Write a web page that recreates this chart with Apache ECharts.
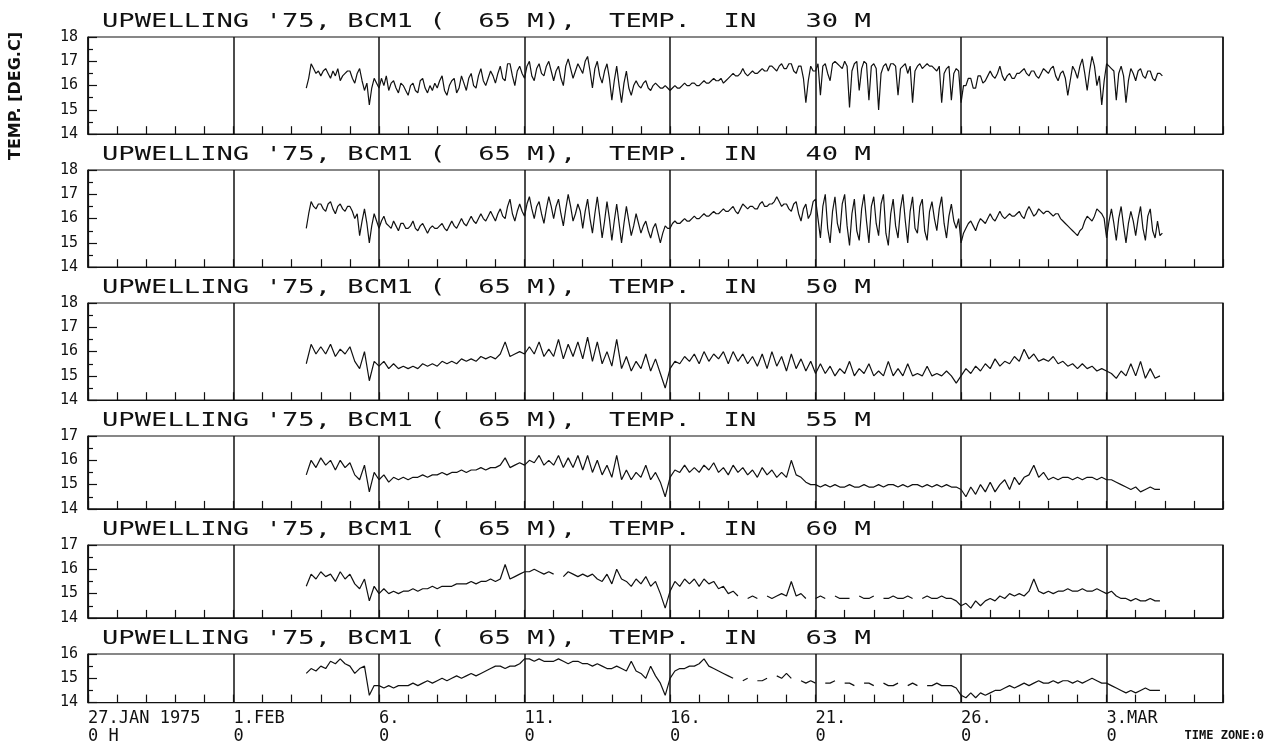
<!DOCTYPE html>
<html>
<head>
<meta charset="utf-8">
<script src="https://cdn.jsdelivr.net/npm/echarts@6/dist/echarts.min.js"></script>
<style>
html,body{margin:0;padding:0;background:#fff}
#chart{width:1276px;height:749px}
</style>
</head>
<body>
<div id="chart"></div>
<script>
// time axis: days after 27.JAN 1975 0 H, every record starts at 3.FEB 12 H
var START = 7.5

var depths = ['30', '40', '50', '55', '60', '63']
var steps = [1 / 12, 1 / 12, 1 / 6, 1 / 6, 1 / 6, 1 / 6]   // 2 h or 4 h samples
var yMin = [14, 14, 14, 14, 14, 14]
var yMax = [18, 18, 18, 17, 17, 16]
var xTickDays = [0, 5, 10, 15, 20, 25, 30, 35]
var xTickLabels = ['27.JAN 1975\n0 H', '1.FEB\n0', '6.\n0', '11.\n0', '16.\n0', '21.\n0', '26.\n0', '3.MAR\n0']

// 30 M, 2 h
var t30 = [
	15.9, 16.3, 16.9, 16.7, 16.5, 16.6,
	16.4, 16.6, 16.7, 16.5, 16.3, 16.6, 16.4, 16.7, 16.2, 16.4, 16.5, 16.6,
	16.6, 16.3, 16.1, 16.5, 16.7, 16.2, 15.8, 16.1, 15.2, 15.9, 16.3, 16.1,
	15.9, 16.3, 16.0, 16.4, 15.8, 16.1, 16.2, 15.9, 15.7, 16.1, 16.0, 15.8,
	15.6, 16.0, 16.1, 15.8, 15.7, 16.2, 16.3, 15.9, 15.7, 16.0, 15.8, 16.1,
	15.9, 16.2, 16.4, 15.8, 15.6, 16.0, 16.2, 16.3, 15.7, 15.9, 16.4, 16.1,
	15.8, 16.3, 16.5, 16.0, 15.9, 16.4, 16.7, 16.2, 16.0, 16.3, 16.6, 16.4,
	16.1, 16.5, 16.8, 16.3, 16.2, 16.9, 16.9, 16.4, 16.0, 16.6, 16.8, 16.5,
	16.3, 16.8, 17.0, 16.4, 16.2, 16.7, 16.9, 16.5, 16.4, 16.8, 17.0, 16.6,
	16.2, 16.6, 16.8, 16.3, 16.0, 16.8, 17.1, 16.7, 16.3, 16.6, 16.9, 16.7,
	16.5, 17.0, 17.2, 16.6, 15.9, 16.7, 17.0, 16.4, 16.1, 16.6, 16.9, 16.3,
	15.4, 16.2, 16.8, 16.0, 15.3, 16.1, 16.6, 15.9, 15.6, 16.0, 16.2, 16.0,
	15.9, 16.1, 16.2, 15.9, 15.8, 16.0, 16.1, 16.0, 15.9, 15.9, 16.0, 15.9,
	15.8, 15.9, 16.0, 15.9, 15.9, 16.0, 16.1, 16.0, 16.0, 16.1, 16.1, 16.0,
	16.0, 16.1, 16.2, 16.1, 16.1, 16.2, 16.3, 16.2, 16.2, 16.3, 16.1, 16.2,
	16.3, 16.4, 16.5, 16.4, 16.4, 16.5, 16.7, 16.5, 16.4, 16.5, 16.6, 16.5,
	16.5, 16.6, 16.7, 16.6, 16.6, 16.8, 16.8, 16.7, 16.6, 16.8, 16.9, 16.7,
	16.7, 16.9, 16.9, 16.6, 16.5, 16.8, 16.8, 16.3, 15.3, 16.2, 16.8, 16.6,
	16.6, 16.9, 15.6, 16.8, 16.9, 16.5, 16.2, 16.9, 17.0, 16.9, 16.8, 16.7,
	17.0, 16.8, 15.1, 16.6, 16.9, 17.0, 15.8, 16.7, 17.0, 16.9, 15.4, 16.8,
	16.9, 16.7, 15.0, 16.5, 16.8, 16.9, 16.6, 16.9, 16.9, 16.8, 15.6, 16.7,
	16.8, 16.9, 16.5, 16.8, 15.3, 16.6, 16.8, 16.9, 16.7, 16.8, 16.9, 16.8,
	16.8, 16.7, 16.6, 16.8, 15.3, 16.5, 16.7, 16.8, 15.4, 16.5, 16.7, 16.6,
	15.3, 16.0, 16.0, 16.3, 16.3, 15.9, 15.9, 16.4, 16.4, 16.1, 16.2, 16.4,
	16.6, 16.4, 16.3, 16.5, 16.8, 16.4, 16.2, 16.4, 16.5, 16.3, 16.3, 16.5,
	16.5, 16.6, 16.7, 16.5, 16.4, 16.6, 16.6, 16.4, 16.3, 16.5, 16.7, 16.6,
	16.5, 16.7, 16.8, 16.4, 16.2, 16.5, 16.6, 16.3, 15.6, 16.2, 16.8, 16.6,
	16.3, 16.8, 17.1, 16.5, 15.8, 16.6, 17.2, 16.8, 16.0, 16.4, 15.2, 16.2,
	16.9, 16.8, 16.7, 16.6, 15.4, 16.5, 16.8, 16.4, 15.3, 16.2, 16.7, 16.5,
	16.2, 16.6, 16.7, 16.4, 16.3, 16.6, 16.6, 16.3, 16.2, 16.5, 16.5, 16.4
]

// 40 M, 2 h
var t40 = [
	15.6, 16.2, 16.7, 16.5, 16.4, 16.6,
	16.6, 16.4, 16.3, 16.6, 16.7, 16.4, 16.2, 16.5, 16.6, 16.4, 16.3, 16.5,
	16.5, 16.3, 16.0, 16.2, 15.3, 15.9, 16.4, 15.8, 15.0, 15.7, 16.2, 15.9,
	15.6, 15.9, 16.1, 15.8, 15.7, 15.6, 15.9, 15.7, 15.5, 15.8, 15.8, 15.6,
	15.6, 15.7, 15.9, 15.6, 15.5, 15.7, 15.8, 15.6, 15.4, 15.6, 15.7, 15.6,
	15.6, 15.7, 15.8, 15.6, 15.5, 15.7, 15.9, 15.7, 15.6, 15.8, 16.0, 15.8,
	15.7, 15.9, 16.1, 15.9, 15.8, 16.0, 16.2, 16.0, 15.9, 16.1, 16.3, 16.1,
	15.9, 16.2, 16.4, 16.1, 16.0, 16.5, 16.8, 16.2, 15.9, 16.3, 16.6, 16.3,
	16.1, 16.6, 16.9, 16.4, 16.0, 16.5, 16.7, 16.2, 15.8, 16.4, 16.9, 16.5,
	16.0, 16.5, 16.8, 16.2, 15.7, 16.4, 17.0, 16.5, 15.9, 16.2, 16.6, 16.3,
	15.6, 16.3, 16.8, 16.0, 15.4, 16.2, 16.9, 16.1, 15.2, 15.9, 16.7, 16.0,
	15.1, 15.9, 16.6, 15.8, 15.0, 15.8, 16.5, 15.9, 15.3, 15.7, 16.2, 15.8,
	15.4, 15.7, 15.9, 15.5, 15.2, 15.6, 15.8, 15.4, 15.0, 15.4, 15.7, 15.6,
	15.6, 15.8, 15.9, 15.8, 15.8, 15.9, 16.0, 15.9, 15.9, 16.0, 16.1, 16.0,
	16.0, 16.1, 16.2, 16.1, 16.1, 16.2, 16.3, 16.2, 16.2, 16.3, 16.4, 16.3,
	16.3, 16.4, 16.5, 16.3, 16.2, 16.4, 16.6, 16.5, 16.4, 16.5, 16.5, 16.4,
	16.4, 16.6, 16.7, 16.5, 16.5, 16.6, 16.6, 16.7, 16.9, 16.7, 16.5, 16.6,
	16.6, 16.4, 16.3, 16.6, 16.7, 16.2, 15.9, 16.4, 16.6, 16.0, 16.2, 16.7,
	16.8, 16.0, 15.2, 16.5, 17.0, 15.6, 15.0, 16.3, 16.9, 15.8, 15.4, 16.6,
	17.0, 15.7, 14.9, 16.2, 16.8, 15.5, 15.1, 16.4, 17.0, 15.9, 15.0, 16.5,
	16.9, 15.8, 15.3, 16.6, 17.0, 15.4, 14.9, 16.2, 16.8, 15.7, 15.2, 16.4,
	17.0, 15.9, 15.0, 16.3, 16.9, 15.6, 15.4, 16.5, 16.8, 15.5, 15.1, 16.3,
	16.7, 16.0, 15.5, 16.4, 16.9, 15.8, 15.2, 16.1, 16.6, 15.9, 15.6, 16.0,
	15.0, 15.4, 15.6, 15.8, 15.9, 15.7, 15.5, 15.8, 16.0, 15.9, 15.8, 16.0,
	16.2, 16.0, 15.9, 16.1, 16.3, 16.1, 16.0, 16.1, 16.2, 16.1, 16.1, 16.2,
	16.3, 16.1, 16.0, 16.3, 16.5, 16.3, 16.1, 16.2, 16.4, 16.3, 16.2, 16.3,
	16.3, 16.2, 16.1, 16.2, 16.2, 16.0, 15.9, 15.8, 15.7, 15.6, 15.5, 15.4,
	15.3, 15.5, 15.6, 15.9, 16.1, 16.0, 15.9, 16.1, 16.4, 16.3, 16.2, 16.0,
	15.2, 15.9, 16.4, 15.8, 15.1, 16.0, 16.5, 15.7, 15.0, 15.8, 16.3, 15.9,
	15.3, 16.0, 16.5, 15.6, 15.1, 16.1, 16.4, 15.5, 15.2, 15.9, 15.3, 15.4
]

// 50 M, 4 h
var t50 = [
	15.5, 16.3, 15.9,
	16.2, 15.9, 16.3, 15.8, 16.1, 15.9,
	16.2, 15.6, 15.3, 16.0, 14.8, 15.6,
	15.4, 15.6, 15.3, 15.5, 15.3, 15.4,
	15.3, 15.4, 15.3, 15.5, 15.4, 15.5,
	15.4, 15.6, 15.5, 15.6, 15.5, 15.7,
	15.6, 15.7, 15.6, 15.8, 15.7, 15.8,
	15.7, 15.9, 16.4, 15.8, 15.9, 16.0,
	15.9, 16.2, 15.9, 16.4, 15.8, 16.1,
	15.8, 16.5, 15.7, 16.3, 15.8, 16.4,
	15.7, 16.6, 15.6, 16.4, 15.5, 16.0,
	15.4, 16.5, 15.3, 15.8, 15.2, 15.6,
	15.3, 15.9, 15.2, 15.7, 15.1, 14.5,
	15.3, 15.6, 15.5, 15.8, 15.6, 15.9,
	15.5, 16.0, 15.6, 15.9, 15.7, 16.0,
	15.5, 16.0, 15.6, 15.9, 15.5, 15.8,
	15.4, 15.9, 15.3, 16.0, 15.4, 15.8,
	15.2, 15.9, 15.3, 15.7, 15.2, 15.6,
	15.1, 15.5, 15.1, 15.4, 15.0, 15.3,
	15.1, 15.6, 15.0, 15.3, 15.1, 15.5,
	15.0, 15.2, 15.0, 15.6, 15.0, 15.3,
	15.0, 15.5, 15.0, 15.1, 15.0, 15.4,
	15.0, 15.1, 15.0, 15.2, 15.0, 14.7,
	15.0, 15.3, 15.1, 15.4, 15.2, 15.5,
	15.3, 15.7, 15.4, 15.6, 15.5, 15.8,
	15.6, 16.1, 15.7, 15.9, 15.6, 15.7,
	15.6, 15.8, 15.5, 15.6, 15.4, 15.5,
	15.3, 15.5, 15.3, 15.4, 15.2, 15.3,
	15.2, 15.1, 14.9, 15.2, 15.0, 15.5,
	15.0, 15.6, 14.9, 15.3, 14.9, 15.0
]

// 55 M, 4 h
var t55 = [
	15.4, 16.0, 15.7,
	16.1, 15.8, 16.0, 15.6, 16.0, 15.7,
	15.9, 15.4, 15.2, 15.8, 14.7, 15.5,
	15.2, 15.4, 15.1, 15.3, 15.2, 15.3,
	15.2, 15.3, 15.3, 15.4, 15.3, 15.4,
	15.4, 15.5, 15.4, 15.5, 15.5, 15.6,
	15.5, 15.6, 15.6, 15.7, 15.6, 15.7,
	15.7, 15.8, 16.1, 15.7, 15.8, 15.9,
	15.8, 16.0, 15.9, 16.2, 15.8, 16.0,
	15.8, 16.2, 15.7, 16.1, 15.7, 16.2,
	15.6, 16.2, 15.5, 16.0, 15.4, 15.8,
	15.3, 16.2, 15.2, 15.6, 15.2, 15.5,
	15.3, 15.8, 15.2, 15.5, 15.1, 14.5,
	15.3, 15.6, 15.5, 15.8, 15.5, 15.7,
	15.5, 15.8, 15.6, 15.9, 15.5, 15.7,
	15.4, 15.8, 15.5, 15.7, 15.4, 15.6,
	15.3, 15.7, 15.4, 15.6, 15.3, 15.5,
	15.3, 16.0, 15.4, 15.3, 15.1, 15.0,
	15.0, 14.9, 15.0, 14.9, 15.0, 14.9,
	14.9, 15.0, 14.9, 14.9, 15.0, 14.9,
	14.9, 15.0, 14.9, 15.0, 15.0, 14.9,
	15.0, 14.9, 15.0, 15.0, 14.9, 15.0,
	14.9, 15.0, 14.9, 15.0, 14.9, 14.9,
	14.8, 14.5, 14.9, 14.6, 15.0, 14.7,
	15.1, 14.7, 15.0, 15.2, 14.8, 15.3,
	15.0, 15.3, 15.4, 15.8, 15.3, 15.5,
	15.2, 15.3, 15.2, 15.3, 15.3, 15.2,
	15.3, 15.2, 15.3, 15.3, 15.2, 15.3,
	15.2, 15.2, 15.1, 15.0, 14.9, 14.8,
	14.9, 14.7, 14.8, 14.9, 14.8, 14.8
]

// 60 M, 4 h (null = no record)
var t60 = [
	15.3, 15.8, 15.6,
	15.9, 15.7, 15.8, 15.5, 15.9, 15.6,
	15.8, 15.4, 15.2, 15.6, 14.7, 15.3,
	15.0, 15.2, 15.0, 15.1, 15.0, 15.1,
	15.1, 15.2, 15.1, 15.2, 15.2, 15.3,
	15.2, 15.3, 15.3, 15.3, 15.4, 15.4,
	15.4, 15.5, 15.4, 15.5, 15.5, 15.6,
	15.5, 15.6, 16.2, 15.6, 15.7, 15.8,
	15.9, 15.9, 16.0, 15.9, 15.8, 15.9,
	15.8, null, 15.7, 15.9, 15.8, 15.7,
	15.8, 15.7, 15.8, 15.6, 15.5, 15.8,
	15.4, 16.0, 15.6, 15.5, 15.3, 15.6,
	15.4, 15.7, 15.3, 15.5, 15.0, 14.4,
	15.1, 15.5, 15.3, 15.6, 15.4, 15.6,
	15.3, 15.6, 15.4, 15.5, 15.2, 15.3,
	15.0, 15.1, 14.9, null, 14.8, 14.9,
	14.8, null, 14.9, 14.8, 14.9, 15.0,
	14.9, 15.5, 14.9, 15.0, 14.8, null,
	14.8, 14.9, 14.8, null, 14.9, 14.8,
	14.8, 14.8, null, 14.9, 14.8, 14.8,
	14.9, null, 14.8, 14.8, 14.9, 14.8,
	14.8, 14.9, 14.8, null, 14.8, 14.9,
	14.8, 14.8, 14.9, 14.8, 14.8, 14.7,
	14.5, 14.6, 14.4, 14.7, 14.5, 14.7,
	14.8, 14.7, 14.9, 14.8, 15.0, 14.9,
	15.0, 14.9, 15.1, 15.6, 15.1, 15.0,
	15.1, 15.0, 15.1, 15.1, 15.2, 15.1,
	15.1, 15.2, 15.1, 15.1, 15.2, 15.1,
	15.0, 15.1, 14.9, 14.8, 14.8, 14.7,
	14.8, 14.7, 14.7, 14.8, 14.7, 14.7
]

// 63 M, 4 h (null = no record)
var t63 = [
	15.2, 15.4, 15.3,
	15.5, 15.4, 15.7, 15.6, 15.8, 15.6,
	15.5, 15.2, 15.4, 15.5, 14.3, 14.7,
	14.7, 14.6, 14.7, 14.6, 14.7, 14.7,
	14.7, 14.8, 14.7, 14.8, 14.9, 14.8,
	14.9, 15.0, 14.9, 15.0, 15.1, 15.0,
	15.1, 15.2, 15.1, 15.2, 15.3, 15.4,
	15.5, 15.5, 15.4, 15.5, 15.5, 15.6,
	15.8, 15.8, 15.7, 15.8, 15.7, 15.7,
	15.7, 15.8, 15.7, 15.6, 15.7, 15.7,
	15.6, 15.6, 15.5, 15.6, 15.5, 15.4,
	15.4, 15.5, 15.4, 15.3, 15.7, 15.3,
	15.2, 15.0, 15.5, 15.1, 14.8, 14.3,
	15.0, 15.3, 15.4, 15.4, 15.5, 15.5,
	15.6, 15.8, 15.5, 15.4, 15.3, 15.2,
	15.1, 15.0, null, 14.9, 15.0, null,
	14.9, 14.9, 15.0, null, 15.1, 15.0,
	15.2, 15.0, null, 14.9, 14.8, 14.9,
	14.8, null, 14.8, 14.8, 14.9, null,
	14.8, 14.8, 14.7, null, 14.8, 14.8,
	14.7, null, 14.8, 14.7, 14.7, 14.8,
	null, 14.7, 14.8, 14.7, null, 14.7,
	14.7, 14.8, 14.7, 14.7, 14.7, 14.6,
	14.3, 14.2, 14.4, 14.2, 14.4, 14.3,
	14.4, 14.5, 14.5, 14.6, 14.7, 14.6,
	14.7, 14.8, 14.7, 14.8, 14.9, 14.8,
	14.8, 14.9, 14.8, 14.9, 14.9, 14.8,
	14.9, 14.8, 14.9, 15.0, 14.9, 14.8,
	14.8, 14.7, 14.6, 14.5, 14.4, 14.5,
	14.4, 14.5, 14.6, 14.5, 14.5, 14.5
]

var temps = [t30, t40, t50, t55, t60, t63]

var chart = echarts.init(document.getElementById('chart'))

var PX_DEG = 24.3
var tops = [37, 170, 303, 436, 545, 654]
var ink = '#111'
var mono = 'DejaVu Sans Mono'

var grids = [], xAxes = [], yAxes = [], series = [], graphics = []

for (var i = 0; i < depths.length; i++) {
	var h = (yMax[i] - yMin[i]) * PX_DEG
	grids.push({left: 88, right: 53, top: tops[i], height: h, show: true, borderColor: ink, borderWidth: 1.2})

	//day ticks
	xAxes.push({
		gridIndex: i, type: 'value', min: 0, max: 39, interval: 1, position: 'bottom',
		axisLine: {show: true, lineStyle: {color: ink, width: 1.2}},
		axisTick: {show: true, inside: true, length: 8, lineStyle: {color: ink, width: 1.2}},
		axisLabel: {show: false},
		splitLine: {show: false}
	})
	//5-day lines and labels
	xAxes.push({
		gridIndex: i, type: 'value', min: 0, max: 39, interval: 5, position: 'bottom',
		axisLine: {show: false},
		axisTick: {show: false},
		splitLine: {show: true, lineStyle: {color: ink, width: 1.5}},
		axisLabel: {
			show: i === depths.length - 1,
			align: 'left', margin: 7, color: ink,
			fontFamily: mono, fontSize: 17, lineHeight: 18,
			formatter: function (v) {
				var k = xTickDays.indexOf(v)
				return k < 0 ? '' : xTickLabels[k]
			}
		}
	})
	yAxes.push({
		gridIndex: i, type: 'value', min: yMin[i], max: yMax[i], interval: 1,
		axisLine: {show: true, lineStyle: {color: ink, width: 1.2}},
		axisTick: {show: true, inside: true, length: 9, lineStyle: {color: ink, width: 1.2}},
		minorTick: {show: true, splitNumber: 2, length: 5, lineStyle: {color: ink, width: 1.2}},
		splitLine: {show: false},
		axisLabel: {color: ink, fontFamily: mono, fontSize: 15, margin: 10}
	})
	var step = steps[i]
	series.push({
		type: 'line', xAxisIndex: 2 * i, yAxisIndex: i,
		showSymbol: false, connectNulls: false, silent: true,
		lineStyle: {color: ink, width: 1.2},
		data: temps[i].map(function (v, k) {
			return [START + k * step, v === null ? '-' : v]
		})
	})
	graphics.push({
		type: 'text', x: 102, y: tops[i] - 5, scaleX: 1.43,
		style: {
			text: "UPWELLING '75, BCM1 (  65 M),  TEMP.  IN   " + depths[i] + ' M',
			font: '19px ' + mono, fill: ink, align: 'left', verticalAlign: 'bottom'
		}
	})
}

graphics.push({
	type: 'text', x: 16, y: 96, rotation: Math.PI / 2,
	style: {text: 'TEMP. [DEG.C]', font: 'bold 16px "DejaVu Sans"', fill: ink, align: 'center', verticalAlign: 'middle'}
})
graphics.push({
	type: 'text', x: 1264, y: 736,
	style: {text: 'TIME ZONE:0', font: 'bold 12px ' + mono, fill: ink, align: 'right', verticalAlign: 'middle'}
})

option = {
	animation: false,
	backgroundColor: '#fff',
	grid: grids,
	xAxis: xAxes,
	yAxis: yAxes,
	series: series,
	graphic: graphics
}
chart.setOption(option)
</script>
</body>
</html>
